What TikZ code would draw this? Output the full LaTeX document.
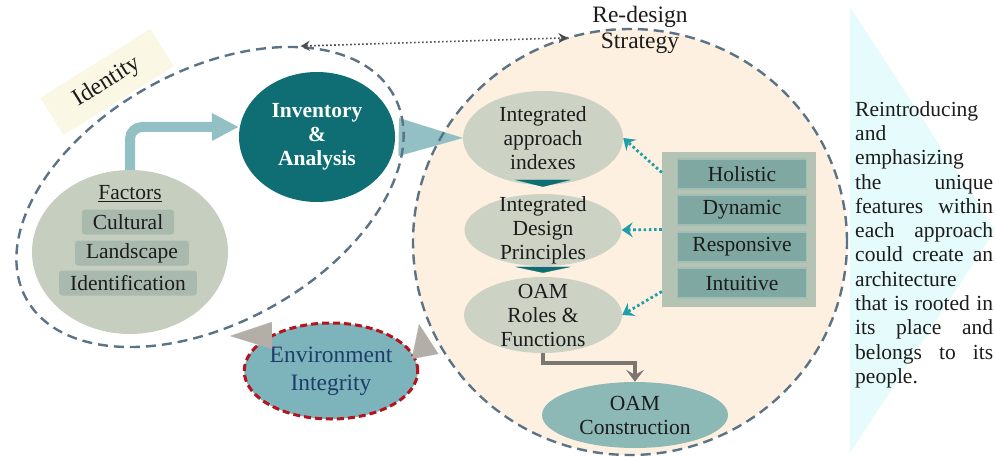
\documentclass[tikz,border=0pt]{standalone}
\usepackage{fontspec}
\setmainfont{Liberation Serif}
\usetikzlibrary{shapes.geometric,arrows.meta}

\definecolor{loopgrey}{HTML}{5B7386}
\definecolor{peach}{HTML}{FDF0E0}
\definecolor{deepteal}{HTML}{0F6E74}
\definecolor{paleteal}{HTML}{92C0C5}
\definecolor{sage}{HTML}{C6CFBF}
\definecolor{sagebox}{HTML}{A9B9AE}
\definecolor{envfill}{HTML}{7DB3BA}
\definecolor{envred}{HTML}{B3141E}
\definecolor{envtext}{HTML}{1E3D6B}
\definecolor{bubfill}{HTML}{CCD2C4}
\definecolor{oamfill}{HTML}{8CB8B5}
\definecolor{panelfill}{HTML}{B4C3B3}
\definecolor{keyfill}{HTML}{7FA8A2}
\definecolor{keyline}{HTML}{A2BFB6}
\definecolor{hintteal}{HTML}{1E9EA8}
\definecolor{tipgrey}{HTML}{B4AEA9}
\definecolor{elbowgrey}{HTML}{7B7670}
\definecolor{idcream}{HTML}{FAF8E4}
\definecolor{sidecyan}{HTML}{E6FBFB}
\definecolor{ink}{HTML}{1C1C1C}

\tikzset{
  body/.style={font=\fontsize{21.5}{24}\selectfont, text=ink},
  loopline/.style={draw=loopgrey, line width=2.4pt, dash pattern=on 10pt off 6pt},
  bub/.style={ellipse, fill=bubfill, inner sep=0pt},
  bubtext/.style={body, align=center},
  factorbox/.style={body, fill=sagebox, rounded corners=3pt, inner xsep=11pt, inner ysep=0pt, minimum height=25pt},
  keybox/.style={body, fill=keyfill, draw=keyline, line width=1.5pt, minimum width=129pt, minimum height=30pt, inner sep=0pt},
  feedarrow/.style={draw=paleteal, line width=10pt, rounded corners=12pt, -{Triangle[length=27pt,width=26pt]}},
  bigwedge/.style={draw=paleteal, line width=0.2pt, -{Triangle[length=64pt,width=38pt]}},
  greytip/.style={draw=tipgrey, line width=0.2pt, -{Triangle[length=#1,width=27pt]}},
  downtip/.style={draw=deepteal, line width=0.2pt, -{Triangle[length=#1,width=56pt]}},
  hint/.style={draw=hintteal, line width=2.8pt, dash pattern=on 2.6pt off 2.6pt, -{Stealth[length=11pt,width=15pt,inset=4pt]}},
  elbow/.style={draw=elbowgrey, line width=3.5pt, -{Stealth[length=12pt,width=18pt,inset=5pt]}},
  linkline/.style={draw=black!70, line width=1.6pt, dash pattern=on 1.6pt off 2.4pt, {Stealth[length=9pt,width=10pt,inset=3pt]}-{Stealth[length=9pt,width=10pt,inset=3pt]}}
}

\begin{document}
\begin{tikzpicture}[x=1pt, y=-1pt]
  \useasboundingbox (0,0) rectangle (995,457);
  \fill[sidecyan] (850,7) -- (995,230) -- (850,453) -- cycle;

  \node[ellipse, fill=peach, minimum width=434pt, minimum height=426pt, inner sep=0pt] (rdloop) at (630,242) {};
  \node[fill=idcream, minimum width=130pt, minimum height=44pt, rotate=32, font=\fontsize{24}{26}\selectfont, text=ink] (idtag) at (107,82) {Identity};

  \node[ellipse, fill=sage, minimum width=196pt, minimum height=164pt, inner sep=0pt] (factors) at (130,252) {};
  \node[body] (factorstitle) at (130,194) {\underline{Factors}};
  \node[factorbox] (cultural) at (128,222) {Cultural};
  \node[factorbox] (landscape) at (132,253) {Landscape};
  \node[factorbox] (identification) at (128,283) {Identification};

  \node[ellipse, fill=deepteal, minimum width=156pt, minimum height=130pt, inner sep=0pt, align=center, font=\fontsize{21.5}{24}\selectfont\bfseries, text=white] (inv) at (317,137) {Inventory\\\&\\Analysis};

  \node[bub, minimum width=160pt, minimum height=94pt, label={[bubtext]center:Integrated\\approach\\indexes}] (iai) at (543,138) {};
  \node[bub, minimum width=157pt, minimum height=72pt, label={[bubtext]center:Integrated\\Design\\Principles}] (idp) at (543,230) {};
  \node[bub, minimum width=158pt, minimum height=76pt, label={[bubtext]center:OAM\\Roles \&\\Functions}] (ors) at (543,315) {};
  \node[ellipse, fill=oamfill, minimum width=186pt, minimum height=66pt, inner sep=0pt, label={[bubtext]center:OAM\\Construction}] (ocon) at (635,415) {};

  \node[fill=panelfill, minimum width=154pt, minimum height=155pt, inner sep=0pt] (panel) at (739,229.5) {};
  \node[keybox] (holistic) at (742,174) {Holistic};
  \node[keybox] (dynamic) at (742,210) {Dynamic};
  \node[keybox] (responsive) at (742,247) {Responsive};
  \node[keybox] (intuitive) at (742,283) {Intuitive};

  \node[ellipse, fill=envfill, draw=envred, line width=3pt, dash pattern=on 7pt off 4pt, minimum width=168pt, minimum height=96pt, inner sep=0pt, align=center, font=\fontsize{23.5}{28}\selectfont, text=envtext] (env) at (331,371) {Environment\\Integrity};

  \coordinate (tipL) at (230,336);
  \coordinate (tipR) at (419,324);

  \draw[feedarrow] (factors.north) |- ([yshift=10pt]inv.west);
  \draw[bigwedge] (inv.east) -- (iai.west);
  \draw[downtip=7pt] ([yshift=5pt]iai.south) -- ([yshift=7pt]idp.north);
  \draw[downtip=6pt] ([yshift=-1pt]idp.south) -- ([yshift=4pt]ors.north);
  \draw[elbow] (ors.south) -- ++(0,10) -| (ocon.north);
  \draw[hint] ([yshift=57pt]panel.west) -- (iai.east);
  \draw[hint] (panel.west) -- (idp.east);
  \draw[hint] ([yshift=-62pt]panel.west) -- (ors.east);
  \draw[greytip=42pt] (env.150) -- (tipL);
  \draw[greytip=33pt] ([xshift=20pt,yshift=-12pt]env.20) -- (tipR);

  \node[ellipse, loopline, minimum width=420pt, minimum height=252pt, inner sep=0pt, rotate=29] (idloop) at (210,197) {};
  \draw[loopline] (rdloop.center) ellipse [x radius=217pt, y radius=213pt];
  \draw[linkline] (idloop.30) -- (rdloop.107);

  \node[align=center, font=\fontsize{23.5}{26}\selectfont, text=ink] (redesign) at (640,30) {Re-design\\Strategy};
  \node[body, text width=138pt, align=left, inner sep=0pt, anchor=north west, font=\fontsize{21.5}{24.3}\selectfont] (summary) at (855,101)
    {Reintroducing\\and\\emphasizing\\the\hfill unique\\features\hfill within\\each\hfill approach\\could\hfill create\hfill an\\architecture\\that\hfill is\hfill rooted\hfill in\\its\hfill place\hfill and\\belongs\hfill to\hfill its\\people.};
\end{tikzpicture}
\end{document}
